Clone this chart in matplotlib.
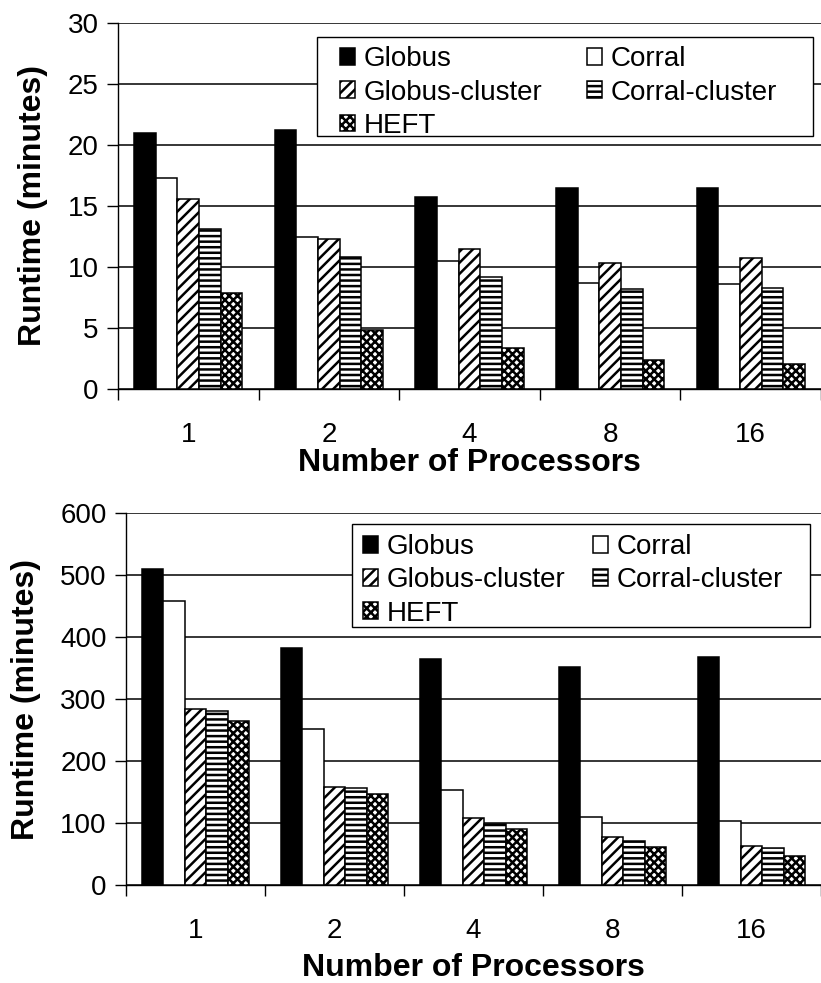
import matplotlib
matplotlib.use("Agg")
import matplotlib.pyplot as plt
from matplotlib.patches import Rectangle
import numpy as np

plt.rcParams['font.family'] = ['Liberation Sans', 'DejaVu Sans']
plt.rcParams['hatch.linewidth'] = 1.8

# datos
procesadores = ['1', '2', '4', '8', '16']
series = ['Globus', 'Corral', 'Globus-cluster', 'Corral-cluster', 'HEFT']

# grafico de arriba (minutos)
arriba_globus = [21.0, 21.2, 15.7, 16.45, 16.45]
arriba_corral = [17.3, 12.45, 10.5, 8.7, 8.6]
arriba_globus_cluster = [15.6, 12.3, 11.45, 10.3, 10.7]
arriba_corral_cluster = [13.1, 10.85, 9.15, 8.2, 8.3]
arriba_heft = [7.85, 4.85, 3.35, 2.4, 2.05]

# grafico de abajo (minutos)
abajo_globus = [509, 383, 364, 352, 367]
abajo_corral = [458, 251, 154, 110, 103]
abajo_globus_cluster = [284, 158, 108, 78, 63]
abajo_corral_cluster = [281, 157, 99, 71, 60]
abajo_heft = [264, 147, 90, 62, 47]

colores = ['black', 'white', 'white', 'white', 'white']
tramas = [None, None, '///', '---', 'xxxx']


def graficar(ax, valores, ymax, paso, xmax, pad_xlabel, caja, ancla, colsep):
    x = np.arange(len(procesadores))
    ancho = 0.154
    barras = []
    for i, v in enumerate(valores):
        b = ax.bar(x + (i - 2) * ancho, v, ancho, color=colores[i], hatch=tramas[i],
                   edgecolor='black', linewidth=1.1, label=series[i], zorder=3)
        barras.append(b)
    ax.set_ylim(0, ymax)
    ax.set_xlim(-0.5, xmax)
    ax.set_yticks(np.arange(0, ymax + 1, paso))
    ax.yaxis.grid(True, color='black', linewidth=1.1, zorder=0)
    ax.set_axisbelow(True)
    ax.set_xticks(x)
    ax.set_xticklabels(procesadores)
    ax.set_xticks(np.arange(-0.5, len(procesadores), 1.0), minor=True)
    ax.tick_params(axis='x', which='major', length=0, labelsize=20, pad=24)
    ax.tick_params(axis='x', which='minor', length=8, width=1.0, direction='out')
    ax.tick_params(axis='y', length=8, width=1.0, labelsize=20, pad=6)
    for s in ['top', 'right']:
        ax.spines[s].set_visible(False)
    for s in ['left', 'bottom']:
        ax.spines[s].set_linewidth(1.0)
    ax.set_ylabel('Runtime (minutes)', fontsize=23, fontweight='bold', labelpad=14)
    ax.set_xlabel('Number of Processors', fontsize=23, fontweight='bold', labelpad=pad_xlabel)

    # caja de la leyenda (como en Excel, mas ancha que el contenido)
    x0, y0, x1, y1 = caja
    ax.add_patch(Rectangle((x0, y0), x1 - x0, y1 - y0, transform=ax.transAxes,
                           facecolor='white', edgecolor='black', linewidth=1.0,
                           zorder=4, clip_on=False))
    # orden para que quede Globus, Corral / Globus-cluster, Corral-cluster / HEFT
    orden = [0, 2, 4, 1, 3]
    leg = ax.legend([barras[i] for i in orden], [series[i] for i in orden], ncol=2,
                    loc='upper left', bbox_to_anchor=ancla, fontsize=20,
                    frameon=False, handlelength=0.55, handleheight=0.55,
                    handletextpad=0.3, columnspacing=colsep, labelspacing=0.26,
                    borderpad=0, borderaxespad=0)
    leg.set_zorder(5)


fig = plt.figure(figsize=(8.21, 9.83), dpi=100)
ax1 = fig.add_axes([0.1437, 0.6043, 0.8563, 0.3723])
ax2 = fig.add_axes([0.1535, 0.0997, 0.8465, 0.3784])

graficar(ax1, [arriba_globus, arriba_corral, arriba_globus_cluster,
               arriba_corral_cluster, arriba_heft], 30, 5, 4.475, 0,
         (0.283, 0.691, 0.9886, 0.962), (0.316, 0.936), 1.6)
graficar(ax2, [abajo_globus, abajo_corral, abajo_globus_cluster,
               abajo_corral_cluster, abajo_heft], 600, 100, 4.436, 6,
         (0.325, 0.694, 0.984, 0.970), (0.341, 0.943), 1.0)

fig.savefig('out.png', dpi=100)
